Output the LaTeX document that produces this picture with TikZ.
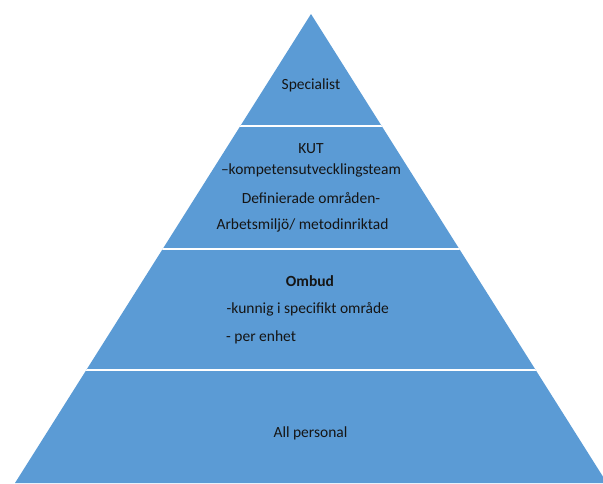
\documentclass[tikz,border=0pt]{standalone}
\usepackage{fontspec}
\setmainfont{Carlito}
\definecolor{pyrblue}{HTML}{5B9BD5}
\definecolor{txt}{HTML}{151515}
\begin{document}
\begin{tikzpicture}[x=1pt,y=-1pt,
  lbl/.style={anchor=base,inner sep=0pt,text=txt,font=\fontsize{15.5}{18}\selectfont},
  lbll/.style={lbl,anchor=base west},
  sep/.style={draw=white,line width=2pt}]
\useasboundingbox (0,0) rectangle (603,483);
\clip (0,0) rectangle (603,483);
\coordinate (apex) at (311,14);
\coordinate (bl) at (15,483);
\coordinate (br) at (607,483);
\fill[pyrblue] (apex) -- (br) -- (bl) -- cycle;
\begin{scope}
\clip (apex) -- (br) -- (bl) -- cycle;
\draw[sep] (0,126) -- (603,126);
\draw[sep] (0,249) -- (603,249);
\draw[sep] (0,370) -- (603,370);
\end{scope}
\node[lbl] (spec) at (311,89) {Specialist};
\node[lbl] (kut) at (311,153) {KUT};
\node[lbl] (komp) at (311,174) {–kompetensutvecklingsteam};
\node[lbl] (def) at (311,203) {Definierade områden-};
\node[lbl] (arb) at (302.5,229) {Arbetsmiljö/ metodinriktad};
\node[lbl,font=\fontsize{15.5}{18}\selectfont\bfseries] (omb) at (310,286) {Ombud};
\node[lbll] (kun) at (226.5,313) {-kunnig i specifikt område};
\node[lbll] (per) at (226,341) {- per enhet};
\node[lbl] (all) at (310.5,437) {All personal};
\end{tikzpicture}
\end{document}
